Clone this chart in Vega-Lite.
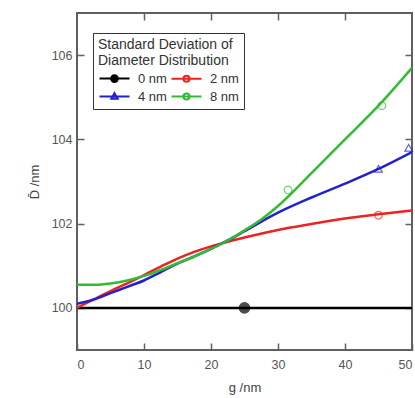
{
  "$schema": "https://vega.github.io/schema/vega-lite/v6.json",
  "autosize": {"type": "none"},
  "padding": {"left": 77, "top": 13, "right": 3, "bottom": 48},
  "width": 335,
  "height": 337,
  "background": "white",
  "config": {
    "font": "Liberation Sans",
    "view": {"stroke": "#606060", "strokeWidth": 2},
    "axis": {
      "domain": false,
      "grid": false,
      "tickColor": "#606060",
      "tickWidth": 1.5,
      "tickSize": -7,
      "labelFontSize": 12.5,
      "labelColor": "#555555",
      "titleFontSize": 13,
      "titleFontWeight": "normal",
      "titleColor": "#444444"
    }
  },
  "datasets": {
    "curves": [
      {"g": 0, "D": 100.0, "s": "0 nm"}, {"g": 50, "D": 100.0, "s": "0 nm"},
      {"g": 0, "D": 100.0, "s": "2 nm"}, {"g": 2.5, "D": 100.2, "s": "2 nm"}, {"g": 5, "D": 100.4, "s": "2 nm"}, {"g": 7.5, "D": 100.58, "s": "2 nm"}, {"g": 10, "D": 100.78, "s": "2 nm"}, {"g": 12.5, "D": 100.98, "s": "2 nm"}, {"g": 15, "D": 101.17, "s": "2 nm"}, {"g": 17.5, "D": 101.33, "s": "2 nm"}, {"g": 20, "D": 101.46, "s": "2 nm"}, {"g": 22.5, "D": 101.57, "s": "2 nm"}, {"g": 25, "D": 101.67, "s": "2 nm"}, {"g": 30, "D": 101.85, "s": "2 nm"}, {"g": 35, "D": 101.99, "s": "2 nm"}, {"g": 40, "D": 102.12, "s": "2 nm"}, {"g": 45, "D": 102.22, "s": "2 nm"}, {"g": 50, "D": 102.31, "s": "2 nm"},
      {"g": 0, "D": 100.1, "s": "4 nm"}, {"g": 2.5, "D": 100.2, "s": "4 nm"}, {"g": 5, "D": 100.35, "s": "4 nm"}, {"g": 7.5, "D": 100.5, "s": "4 nm"}, {"g": 10, "D": 100.65, "s": "4 nm"}, {"g": 12.5, "D": 100.85, "s": "4 nm"}, {"g": 15, "D": 101.05, "s": "4 nm"}, {"g": 17.5, "D": 101.22, "s": "4 nm"}, {"g": 20, "D": 101.4, "s": "4 nm"}, {"g": 22.5, "D": 101.6, "s": "4 nm"}, {"g": 25, "D": 101.82, "s": "4 nm"}, {"g": 30, "D": 102.26, "s": "4 nm"}, {"g": 35, "D": 102.62, "s": "4 nm"}, {"g": 40, "D": 102.95, "s": "4 nm"}, {"g": 45, "D": 103.3, "s": "4 nm"}, {"g": 50, "D": 103.7, "s": "4 nm"},
      {"g": 0, "D": 100.55, "s": "8 nm"}, {"g": 2.5, "D": 100.55, "s": "8 nm"}, {"g": 5, "D": 100.58, "s": "8 nm"}, {"g": 7.5, "D": 100.65, "s": "8 nm"}, {"g": 10, "D": 100.76, "s": "8 nm"}, {"g": 12.5, "D": 100.9, "s": "8 nm"}, {"g": 15, "D": 101.06, "s": "8 nm"}, {"g": 17.5, "D": 101.22, "s": "8 nm"}, {"g": 20, "D": 101.4, "s": "8 nm"}, {"g": 22.5, "D": 101.6, "s": "8 nm"}, {"g": 25, "D": 101.84, "s": "8 nm"}, {"g": 27.5, "D": 102.1, "s": "8 nm"}, {"g": 30, "D": 102.42, "s": "8 nm"}, {"g": 35, "D": 103.2, "s": "8 nm"}, {"g": 40, "D": 104.0, "s": "8 nm"}, {"g": 45, "D": 104.8, "s": "8 nm"}, {"g": 50, "D": 105.7, "s": "8 nm"}
    ],
    "markers": [
      {"g": 25, "D": 100.0, "s": "0 nm"},
      {"g": 45, "D": 102.2, "s": "2 nm"},
      {"g": 45, "D": 103.3, "s": "4 nm"},
      {"g": 49.5, "D": 103.8, "s": "4 nm"},
      {"g": 31.5, "D": 102.8, "s": "8 nm"},
      {"g": 45.5, "D": 104.8, "s": "8 nm"}
    ]
  },
  "layer": [
    {
      "data": {"name": "curves"},
      "mark": {"type": "line", "strokeWidth": 2.5, "interpolate": "monotone", "clip": true},
      "encoding": {
        "x": {"field": "g", "type": "quantitative", "scale": {"domain": [0, 50], "nice": false},
          "axis": {"orient": "bottom", "values": [0, 10, 20, 30, 40, 50], "title": "g /nm", "labelPadding": 15, "titlePadding": 11}},
        "y": {"field": "D", "type": "quantitative", "scale": {"domain": [99, 107], "nice": false, "zero": false},
          "axis": {"orient": "left", "values": [100, 102, 104, 106], "title": "D̄ /nm", "labelPadding": 12, "titlePadding": 10}},
        "color": {"field": "s", "type": "nominal",
          "scale": {"domain": ["0 nm", "2 nm", "4 nm", "8 nm"], "range": ["#000000", "#ee2222", "#2222cc", "#33bb33"]},
          "legend": {
            "orient": "none", "legendX": 16, "legendY": 20, "direction": "horizontal",
            "title": ["Standard Deviation of", "Diameter Distribution"],
            "titleFontSize": 14, "titleFontWeight": "normal", "titleColor": "#333333", "titlePadding": 2, "titleLineHeight": 16,
            "labelFontSize": 13, "labelColor": "#333333", "labelOffset": 15,
            "columns": 2, "columnPadding": 0, "rowPadding": 2,
            "symbolSize": 225, "symbolStrokeWidth": 2, "symbolOffset": 8,
            "strokeColor": "#333333", "padding": 5, "fillColor": "white",
            "encode": {
              "symbols": {"update": {
                "shape": {"signal": "datum.value === '0 nm' ? 'M-2,0H2M0.45,0A0.45,0.45 0 1,1 -0.45,0A0.45,0.45 0 1,1 0.45,0Z' : datum.value === '4 nm' ? 'M-2,0H2M0,-0.45L0.42,0.3L-0.42,0.3Z' : 'M-2,0H2M0.4,0A0.4,0.4 0 1,1 -0.4,0A0.4,0.4 0 1,1 0.4,0Z'"},
                "fill": {"signal": "datum.value === '0 nm' ? '#000000' : 'transparent'"}
              }}
            }
          }}
      }
    },
    {
      "data": {"name": "markers"},
      "mark": {"type": "point", "strokeWidth": 1.2, "clip": false},
      "encoding": {
        "x": {"field": "g", "type": "quantitative", "scale": {"domain": [0, 50], "nice": false},
          "axis": {"orient": "top", "values": [10, 20, 30, 40], "labels": false, "title": null}},
        "y": {"field": "D", "type": "quantitative", "scale": {"domain": [99, 107], "nice": false, "zero": false},
          "axis": {"orient": "right", "values": [100, 102, 104, 106], "labels": false, "title": null}},
        "color": {"field": "s", "type": "nominal", "legend": null},
        "shape": {"condition": {"test": "datum.s === '4 nm'", "value": "triangle-up"}, "value": "circle"},
        "fill": {"condition": {"test": "datum.s === '0 nm'", "value": "#000000"}, "value": "transparent"},
        "size": {"condition": {"test": "datum.s === '0 nm'", "value": 110}, "value": 60}
      }
    }
  ],
  "resolve": {"axis": {"x": "independent", "y": "independent"}}
}
